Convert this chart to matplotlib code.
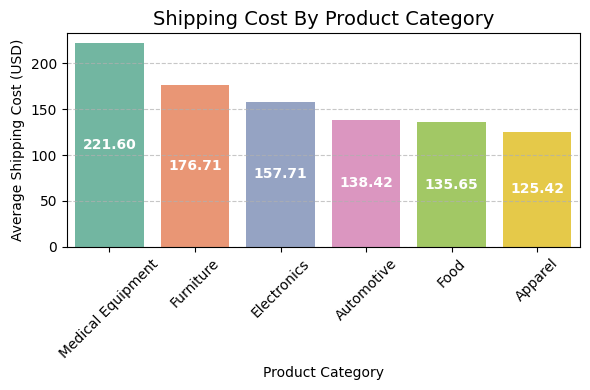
import matplotlib
matplotlib.use("Agg")
import matplotlib.pyplot as plt
import seaborn as sns
import pandas as pd

categories = ["Medical Equipment", "Furniture", "Electronics", "Automotive", "Food", "Apparel"]
values = [221.60, 176.71, 157.71, 138.42, 135.65, 125.42]

df = pd.DataFrame({"Product Category": categories, "Average Shipping Cost (USD)": values})

fig, ax = plt.subplots(figsize=(5.9, 3.9), dpi=100)
sns.barplot(data=df, x="Product Category", y="Average Shipping Cost (USD)",
            hue="Product Category", palette="Set2", legend=False, ax=ax)
ax.set_title("Shipping Cost By Product Category", fontsize=14)
ax.grid(axis="y", linestyle="--", alpha=0.7)
for i, v in enumerate(values):
    ax.text(i, v / 2, f"{v:.2f}", ha="center", va="center", color="white",
            fontweight="bold", fontsize=10)
plt.setp(ax.get_xticklabels(), rotation=45)
fig.subplots_adjust(left=0.113, right=0.983, top=0.915, bottom=0.367)
fig.savefig("out.png", dpi=100)
